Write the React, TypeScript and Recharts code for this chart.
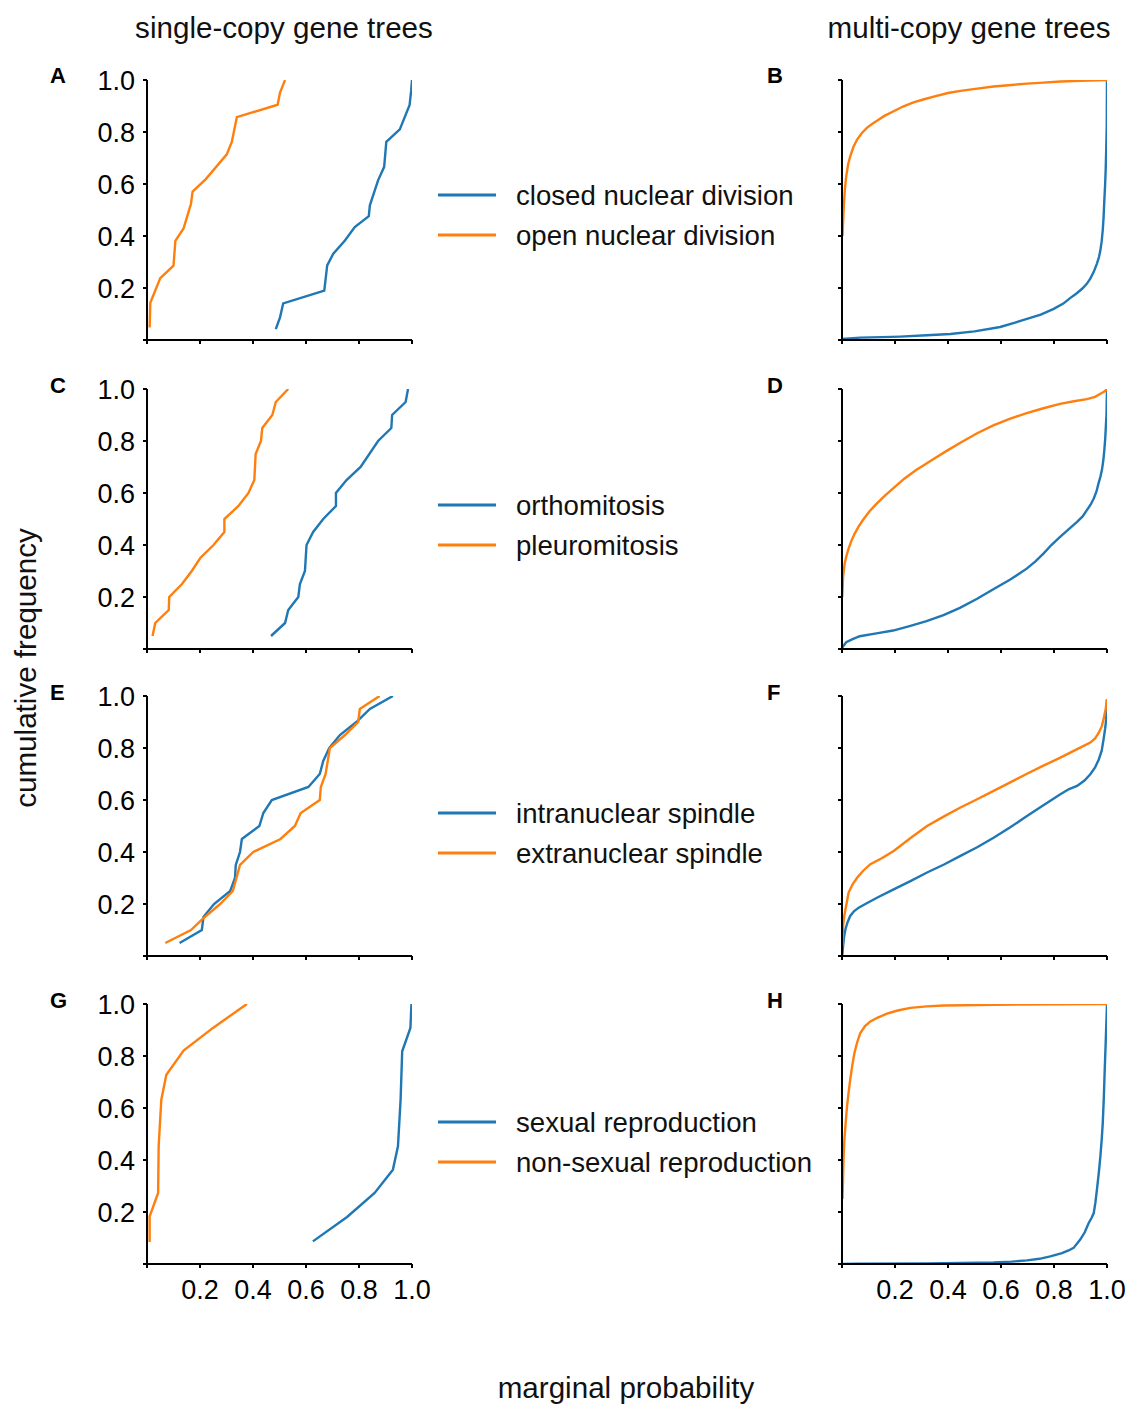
import React from 'react';
import { LineChart, Line, XAxis, YAxis, Legend } from 'recharts';

const FONT = '"Liberation Sans", Arial, Helvetica, sans-serif';
const BLUE = '#1f77b4';
const ORANGE = '#ff7f0e';

const xTicks = [0, 0.2, 0.4, 0.6, 0.8, 1.0];
const yTicks = [0, 0.2, 0.4, 0.6, 0.8, 1.0];

const colTitles = ['single-copy gene trees', 'multi-copy gene trees'];
const panelLetters = ['A', 'B', 'C', 'D', 'E', 'F', 'G', 'H'];
const legendNames = [
  ['closed nuclear division', 'open nuclear division'],
  ['orthomitosis', 'pleuromitosis'],
  ['intranuclear spindle', 'extranuclear spindle'],
  ['sexual reproduction', 'non-sexual reproduction'],
];
const xLabel = 'marginal probability';
const yLabel = 'cumulative frequency';

// A: single-copy, closed (blue) / open (orange)
const aClosed = [
  { x: 0.486, y: 0.042 }, { x: 0.502, y: 0.087 }, { x: 0.514, y: 0.141 }, { x: 0.669, y: 0.19 },
  { x: 0.68, y: 0.287 }, { x: 0.703, y: 0.332 }, { x: 0.747, y: 0.383 }, { x: 0.784, y: 0.434 },
  { x: 0.837, y: 0.476 }, { x: 0.841, y: 0.518 }, { x: 0.872, y: 0.614 }, { x: 0.895, y: 0.666 },
  { x: 0.903, y: 0.762 }, { x: 0.954, y: 0.81 }, { x: 0.991, y: 0.904 }, { x: 0.997, y: 0.961 },
  { x: 1.0, y: 1.0 },
];
const aOpen = [
  { x: 0.01, y: 0.048 }, { x: 0.0125, y: 0.143 }, { x: 0.05, y: 0.238 }, { x: 0.1, y: 0.286 },
  { x: 0.107, y: 0.381 }, { x: 0.138, y: 0.429 }, { x: 0.166, y: 0.524 }, { x: 0.172, y: 0.571 },
  { x: 0.222, y: 0.619 }, { x: 0.301, y: 0.714 }, { x: 0.32, y: 0.762 }, { x: 0.339, y: 0.857 },
  { x: 0.493, y: 0.905 }, { x: 0.502, y: 0.952 }, { x: 0.521, y: 1.0 },
];
// B: multi-copy
const bClosed = [
  { x: 0.0, y: 0.004 }, { x: 0.069, y: 0.009 }, { x: 0.15, y: 0.011 }, { x: 0.22, y: 0.013 },
  { x: 0.32, y: 0.018 }, { x: 0.409, y: 0.023 }, { x: 0.5, y: 0.033 }, { x: 0.597, y: 0.05 },
  { x: 0.65, y: 0.066 }, { x: 0.698, y: 0.081 }, { x: 0.75, y: 0.098 }, { x: 0.799, y: 0.12 },
  { x: 0.835, y: 0.14 }, { x: 0.862, y: 0.162 }, { x: 0.886, y: 0.18 }, { x: 0.906, y: 0.197 },
  { x: 0.923, y: 0.215 }, { x: 0.937, y: 0.236 }, { x: 0.95, y: 0.262 }, { x: 0.962, y: 0.294 },
  { x: 0.97, y: 0.32 }, { x: 0.975, y: 0.345 }, { x: 0.98, y: 0.38 }, { x: 0.984, y: 0.423 },
  { x: 0.987, y: 0.47 }, { x: 0.99, y: 0.539 }, { x: 0.993, y: 0.6 }, { x: 0.995, y: 0.655 },
  { x: 0.997, y: 0.73 }, { x: 0.999, y: 0.822 }, { x: 1.0, y: 1.0 },
];
const bOpen = [
  { x: 0.002, y: 0.4 }, { x: 0.004, y: 0.45 }, { x: 0.007, y: 0.52 }, { x: 0.011, y: 0.58 },
  { x: 0.016, y: 0.63 }, { x: 0.023, y: 0.675 }, { x: 0.031, y: 0.706 }, { x: 0.043, y: 0.742 },
  { x: 0.057, y: 0.771 }, { x: 0.075, y: 0.796 }, { x: 0.094, y: 0.816 }, { x: 0.112, y: 0.83 },
  { x: 0.132, y: 0.843 }, { x: 0.16, y: 0.862 }, { x: 0.195, y: 0.88 }, { x: 0.23, y: 0.898 },
  { x: 0.27, y: 0.914 }, { x: 0.31, y: 0.926 }, { x: 0.346, y: 0.936 }, { x: 0.4, y: 0.95 },
  { x: 0.447, y: 0.958 }, { x: 0.51, y: 0.967 }, { x: 0.572, y: 0.975 }, { x: 0.64, y: 0.981 },
  { x: 0.698, y: 0.986 }, { x: 0.76, y: 0.99 }, { x: 0.824, y: 0.994 }, { x: 0.9, y: 0.997 },
  { x: 1.0, y: 1.0 },
];
// C: single-copy, orthomitosis (blue) / pleuromitosis (orange)
const cOrtho = [
  { x: 0.468, y: 0.05 }, { x: 0.521, y: 0.1 }, { x: 0.533, y: 0.15 }, { x: 0.571, y: 0.2 },
  { x: 0.577, y: 0.25 }, { x: 0.596, y: 0.3 }, { x: 0.602, y: 0.4 }, { x: 0.627, y: 0.45 },
  { x: 0.665, y: 0.5 }, { x: 0.713, y: 0.55 }, { x: 0.713, y: 0.6 }, { x: 0.753, y: 0.65 },
  { x: 0.806, y: 0.7 }, { x: 0.872, y: 0.8 }, { x: 0.922, y: 0.85 }, { x: 0.925, y: 0.9 },
  { x: 0.976, y: 0.95 }, { x: 0.985, y: 1.0 },
];
const cPleuro = [
  { x: 0.021, y: 0.05 }, { x: 0.031, y: 0.1 }, { x: 0.082, y: 0.15 }, { x: 0.084, y: 0.2 },
  { x: 0.132, y: 0.25 }, { x: 0.169, y: 0.3 }, { x: 0.201, y: 0.35 }, { x: 0.251, y: 0.4 },
  { x: 0.292, y: 0.45 }, { x: 0.292, y: 0.5 }, { x: 0.345, y: 0.55 }, { x: 0.383, y: 0.6 },
  { x: 0.405, y: 0.65 }, { x: 0.41, y: 0.75 }, { x: 0.43, y: 0.8 }, { x: 0.435, y: 0.85 },
  { x: 0.473, y: 0.9 }, { x: 0.486, y: 0.95 }, { x: 0.533, y: 1.0 },
];
// D: multi-copy
const dOrtho = [
  { x: 0.001, y: 0.006 }, { x: 0.016, y: 0.026 }, { x: 0.04, y: 0.038 }, { x: 0.067, y: 0.049 },
  { x: 0.13, y: 0.06 }, { x: 0.193, y: 0.071 }, { x: 0.255, y: 0.088 }, { x: 0.319, y: 0.107 },
  { x: 0.383, y: 0.13 }, { x: 0.445, y: 0.158 }, { x: 0.51, y: 0.193 }, { x: 0.571, y: 0.23 },
  { x: 0.635, y: 0.267 }, { x: 0.697, y: 0.309 }, { x: 0.73, y: 0.337 }, { x: 0.76, y: 0.367 },
  { x: 0.79, y: 0.4 }, { x: 0.823, y: 0.431 }, { x: 0.857, y: 0.462 }, { x: 0.887, y: 0.489 },
  { x: 0.908, y: 0.51 }, { x: 0.924, y: 0.534 }, { x: 0.938, y: 0.555 }, { x: 0.95, y: 0.579 },
  { x: 0.96, y: 0.605 }, { x: 0.968, y: 0.637 }, { x: 0.975, y: 0.662 }, { x: 0.981, y: 0.689 },
  { x: 0.986, y: 0.725 }, { x: 0.99, y: 0.766 }, { x: 0.993, y: 0.805 }, { x: 0.995, y: 0.843 },
  { x: 0.998, y: 0.9 }, { x: 1.0, y: 1.0 },
];
const dPleuro = [
  { x: 0.001, y: 0.2 }, { x: 0.004, y: 0.277 }, { x: 0.01, y: 0.328 }, { x: 0.016, y: 0.355 },
  { x: 0.023, y: 0.38 }, { x: 0.035, y: 0.415 }, { x: 0.048, y: 0.444 }, { x: 0.062, y: 0.47 },
  { x: 0.079, y: 0.496 }, { x: 0.104, y: 0.53 }, { x: 0.13, y: 0.558 }, { x: 0.16, y: 0.588 },
  { x: 0.193, y: 0.618 }, { x: 0.235, y: 0.655 }, { x: 0.281, y: 0.689 }, { x: 0.31, y: 0.708 },
  { x: 0.344, y: 0.73 }, { x: 0.395, y: 0.762 }, { x: 0.445, y: 0.792 }, { x: 0.51, y: 0.83 },
  { x: 0.571, y: 0.86 }, { x: 0.635, y: 0.886 }, { x: 0.697, y: 0.907 }, { x: 0.76, y: 0.926 },
  { x: 0.823, y: 0.943 }, { x: 0.875, y: 0.953 }, { x: 0.924, y: 0.961 }, { x: 0.955, y: 0.97 },
  { x: 0.975, y: 0.982 }, { x: 0.99, y: 0.99 }, { x: 1.0, y: 1.0 },
];
// E: single-copy, intranuclear (blue) / extranuclear (orange)
const eIntra = [
  { x: 0.123, y: 0.05 }, { x: 0.207, y: 0.1 }, { x: 0.213, y: 0.15 }, { x: 0.253, y: 0.2 },
  { x: 0.314, y: 0.25 }, { x: 0.332, y: 0.3 }, { x: 0.335, y: 0.35 }, { x: 0.351, y: 0.4 },
  { x: 0.358, y: 0.45 }, { x: 0.424, y: 0.5 }, { x: 0.439, y: 0.55 }, { x: 0.471, y: 0.6 },
  { x: 0.609, y: 0.65 }, { x: 0.652, y: 0.7 }, { x: 0.665, y: 0.75 }, { x: 0.688, y: 0.8 },
  { x: 0.728, y: 0.85 }, { x: 0.79, y: 0.9 }, { x: 0.841, y: 0.95 }, { x: 0.928, y: 1.0 },
];
const eExtra = [
  { x: 0.069, y: 0.05 }, { x: 0.166, y: 0.1 }, { x: 0.207, y: 0.14 }, { x: 0.276, y: 0.2 },
  { x: 0.324, y: 0.25 }, { x: 0.351, y: 0.35 }, { x: 0.401, y: 0.4 }, { x: 0.504, y: 0.45 },
  { x: 0.558, y: 0.5 }, { x: 0.58, y: 0.55 }, { x: 0.652, y: 0.6 }, { x: 0.656, y: 0.65 },
  { x: 0.674, y: 0.7 }, { x: 0.69, y: 0.8 }, { x: 0.747, y: 0.85 }, { x: 0.797, y: 0.9 },
  { x: 0.803, y: 0.95 }, { x: 0.878, y: 1.0 },
];
// F: multi-copy
const fIntra = [
  { x: 0.001, y: 0.0 }, { x: 0.004, y: 0.038 }, { x: 0.008, y: 0.075 }, { x: 0.013, y: 0.103 },
  { x: 0.021, y: 0.13 }, { x: 0.031, y: 0.154 }, { x: 0.045, y: 0.172 }, { x: 0.063, y: 0.186 },
  { x: 0.095, y: 0.204 }, { x: 0.132, y: 0.224 }, { x: 0.195, y: 0.256 }, { x: 0.26, y: 0.289 },
  { x: 0.321, y: 0.321 }, { x: 0.385, y: 0.352 }, { x: 0.447, y: 0.385 }, { x: 0.51, y: 0.418 },
  { x: 0.572, y: 0.455 }, { x: 0.635, y: 0.495 }, { x: 0.698, y: 0.538 }, { x: 0.76, y: 0.58 },
  { x: 0.824, y: 0.622 }, { x: 0.857, y: 0.642 }, { x: 0.887, y: 0.654 }, { x: 0.915, y: 0.675 },
  { x: 0.937, y: 0.699 }, { x: 0.955, y: 0.725 }, { x: 0.969, y: 0.756 }, { x: 0.98, y: 0.79 },
  { x: 0.987, y: 0.833 }, { x: 0.993, y: 0.875 }, { x: 0.997, y: 0.91 }, { x: 1.0, y: 0.987 },
];
const fExtra = [
  { x: 0.001, y: 0.04 }, { x: 0.004, y: 0.115 }, { x: 0.008, y: 0.15 }, { x: 0.013, y: 0.179 },
  { x: 0.025, y: 0.244 }, { x: 0.04, y: 0.276 }, { x: 0.057, y: 0.301 }, { x: 0.08, y: 0.328 },
  { x: 0.107, y: 0.353 }, { x: 0.15, y: 0.376 }, { x: 0.195, y: 0.404 }, { x: 0.26, y: 0.455 },
  { x: 0.321, y: 0.5 }, { x: 0.385, y: 0.537 }, { x: 0.447, y: 0.571 }, { x: 0.51, y: 0.603 },
  { x: 0.572, y: 0.635 }, { x: 0.635, y: 0.668 }, { x: 0.698, y: 0.701 }, { x: 0.76, y: 0.732 },
  { x: 0.824, y: 0.763 }, { x: 0.88, y: 0.792 }, { x: 0.937, y: 0.821 }, { x: 0.955, y: 0.837 },
  { x: 0.969, y: 0.859 }, { x: 0.98, y: 0.883 }, { x: 0.987, y: 0.91 }, { x: 0.995, y: 0.95 },
  { x: 1.0, y: 0.987 },
];
// G: single-copy, sexual (blue) / non-sexual (orange)
const gSexual = [
  { x: 0.626, y: 0.087 }, { x: 0.755, y: 0.181 }, { x: 0.859, y: 0.273 }, { x: 0.928, y: 0.363 },
  { x: 0.947, y: 0.453 }, { x: 0.957, y: 0.632 }, { x: 0.963, y: 0.818 }, { x: 0.994, y: 0.908 },
  { x: 0.998, y: 1.0 },
];
const gNonSexual = [
  { x: 0.01, y: 0.085 }, { x: 0.01, y: 0.183 }, { x: 0.042, y: 0.273 }, { x: 0.044, y: 0.453 },
  { x: 0.054, y: 0.632 }, { x: 0.073, y: 0.728 }, { x: 0.138, y: 0.821 }, { x: 0.249, y: 0.908 },
  { x: 0.377, y: 1.0 },
];
// H: multi-copy
const hSexual = [
  { x: 0.0, y: 0.0 }, { x: 0.057, y: 0.001 }, { x: 0.321, y: 0.002 }, { x: 0.572, y: 0.006 },
  { x: 0.64, y: 0.009 }, { x: 0.698, y: 0.014 }, { x: 0.745, y: 0.02 }, { x: 0.786, y: 0.029 },
  { x: 0.83, y: 0.042 }, { x: 0.855, y: 0.052 }, { x: 0.874, y: 0.062 }, { x: 0.899, y: 0.094 },
  { x: 0.916, y: 0.122 }, { x: 0.931, y: 0.158 }, { x: 0.942, y: 0.178 }, { x: 0.95, y: 0.196 },
  { x: 0.956, y: 0.235 }, { x: 0.962, y: 0.286 }, { x: 0.969, y: 0.35 }, { x: 0.975, y: 0.414 },
  { x: 0.98, y: 0.478 }, { x: 0.984, y: 0.542 }, { x: 0.988, y: 0.64 }, { x: 0.991, y: 0.735 },
  { x: 0.995, y: 0.85 }, { x: 1.0, y: 1.0 },
];
const hNonSexual = [
  { x: 0.002, y: 0.25 }, { x: 0.004, y: 0.337 }, { x: 0.006, y: 0.41 }, { x: 0.009, y: 0.478 },
  { x: 0.014, y: 0.545 }, { x: 0.019, y: 0.606 }, { x: 0.025, y: 0.66 }, { x: 0.031, y: 0.709 },
  { x: 0.039, y: 0.765 }, { x: 0.047, y: 0.812 }, { x: 0.057, y: 0.852 }, { x: 0.069, y: 0.888 },
  { x: 0.087, y: 0.915 }, { x: 0.107, y: 0.933 }, { x: 0.135, y: 0.948 }, { x: 0.17, y: 0.963 },
  { x: 0.21, y: 0.975 }, { x: 0.258, y: 0.985 }, { x: 0.32, y: 0.991 }, { x: 0.384, y: 0.994 },
  { x: 0.572, y: 0.997 }, { x: 1.0, y: 1.0 },
];

const blueSeries = [aClosed, bClosed, cOrtho, dOrtho, eIntra, fIntra, gSexual, hSexual];
const orangeSeries = [aOpen, bOpen, cPleuro, dPleuro, eExtra, fExtra, gNonSexual, hNonSexual];

const PLOT_W = 265;
const PLOT_H = 260;
const Y_AXIS_W = 60;
const X_AXIS_H = 40;
const M_TOP = 20;
const M_RIGHT = 30;
const plotLefts = [147, 842];
const plotTops = [80, 389, 696, 1004];
const legendLineYs = [195, 505, 813, 1122];
const letterBaselines = [83, 393, 700, 1008];
const letterXs = [50, 767];

const axisStroke = { stroke: '#000', strokeWidth: 2 };
const tickStyle = { fill: '#000', fontSize: 27, fontFamily: FONT };

function makeLegend(names: string[]) {
  return (props: any) => {
    const payload = [...(props.payload || [])].sort(
      (a: any, b: any) => names.indexOf(a.value) - names.indexOf(b.value)
    );
    return (
      <svg width={420} height={90} style={{ overflow: 'visible', display: 'block' }}>
        {payload.map((p: any, i: number) => {
          const y = 20 + 40 * i;
          const color = p.color || (p.payload && p.payload.stroke);
          return (
            <g key={i}>
              <line x1={0} x2={58} y1={y} y2={y} stroke={color} strokeWidth={3} />
              <text x={78} y={y + 9.5} fontSize={27.6} fontFamily={FONT} fill="#111">
                {p.value}
              </text>
            </g>
          );
        })}
      </svg>
    );
  };
}

function Panel({ idx }: { idx: number }) {
  const col = idx % 2;
  const row = Math.floor(idx / 2);
  const left = plotLefts[col] - Y_AXIS_W;
  const top = plotTops[row] - M_TOP;
  const showX = row === 3;
  const showY = col === 0;
  const names = legendNames[row];
  const legendTopPage = legendLineYs[row] - 20;
  return (
    <div style={{ position: 'absolute', left, top }}>
      <LineChart
        width={Y_AXIS_W + PLOT_W + M_RIGHT}
        height={M_TOP + PLOT_H + X_AXIS_H}
        margin={{ top: M_TOP, right: M_RIGHT, left: 0, bottom: 0 }}
        style={{ overflow: 'visible' }}
      >
        <XAxis
          xAxisId="b"
          type="number"
          dataKey="x"
          domain={[0, 1]}
          ticks={xTicks}
          interval={0}
          allowDataOverflow
          height={X_AXIS_H}
          tickSize={4}
          tickMargin={12}
          axisLine={axisStroke}
          tickLine={axisStroke}
          tick={tickStyle}
          tickFormatter={(v: number) => (showX && v !== 0 ? v.toFixed(1) : '')}
        />
        <XAxis
          xAxisId="t"
          orientation="top"
          type="number"
          dataKey="x"
          domain={[0, 1]}
          height={0}
          tick={false}
          tickLine={false}
          axisLine={axisStroke}
        />
        <YAxis
          yAxisId="l"
          type="number"
          domain={[0, 1]}
          ticks={yTicks}
          interval={0}
          allowDataOverflow
          width={Y_AXIS_W}
          tickSize={4}
          tickMargin={8}
          axisLine={axisStroke}
          tickLine={axisStroke}
          tick={tickStyle}
          tickFormatter={(v: number) => (showY && v !== 0 ? v.toFixed(1) : '')}
        />
        <YAxis
          yAxisId="r"
          orientation="right"
          type="number"
          domain={[0, 1]}
          width={0}
          tick={false}
          tickLine={false}
          axisLine={axisStroke}
        />
        <Line
          xAxisId="b"
          yAxisId="l"
          data={blueSeries[idx]}
          dataKey="y"
          name={names[0]}
          type="linear"
          stroke={BLUE}
          strokeWidth={2.4}
          dot={false}
          activeDot={false}
          isAnimationActive={false}
        />
        <Line
          xAxisId="b"
          yAxisId="l"
          data={orangeSeries[idx]}
          dataKey="y"
          name={names[1]}
          type="linear"
          stroke={ORANGE}
          strokeWidth={2.4}
          dot={false}
          activeDot={false}
          isAnimationActive={false}
        />
        {col === 0 && (
          <Legend
            layout="vertical"
            align="center"
            verticalAlign="middle"
            content={makeLegend(names)}
            wrapperStyle={{
              left: 438 - left,
              top: legendTopPage - top,
              width: 420,
              height: 90,
              right: 'auto',
              bottom: 'auto',
            }}
          />
        )}
      </LineChart>
    </div>
  );
}

export default function App() {
  return (
    <div
      style={{
        position: 'absolute',
        left: 0,
        top: 0,
        width: 1131,
        height: 1404,
        background: '#fff',
        fontFamily: FONT,
      }}
    >
      {panelLetters.map((_, i) => (
        <Panel key={i} idx={i} />
      ))}
      <svg
        width={1131}
        height={1404}
        style={{ position: 'absolute', left: 0, top: 0, pointerEvents: 'none' }}
      >
        <text x={284} y={38} textAnchor="middle" fontSize={29.6} fontFamily={FONT} fill="#111">
          {colTitles[0]}
        </text>
        <text x={969} y={38} textAnchor="middle" fontSize={29.6} fontFamily={FONT} fill="#111">
          {colTitles[1]}
        </text>
        {panelLetters.map((l, i) => (
          <text
            key={l}
            x={letterXs[i % 2]}
            y={letterBaselines[Math.floor(i / 2)]}
            fontSize={22}
            fontWeight="bold"
            fontFamily={FONT}
            fill="#000"
          >
            {l}
          </text>
        ))}
        <text
          transform="translate(36,668) rotate(-90)"
          textAnchor="middle"
          fontSize={29.6}
          fontFamily={FONT}
          fill="#111"
        >
          {yLabel}
        </text>
        <text x={626} y={1398} textAnchor="middle" fontSize={29.6} fontFamily={FONT} fill="#111">
          {xLabel}
        </text>
      </svg>
    </div>
  );
}
